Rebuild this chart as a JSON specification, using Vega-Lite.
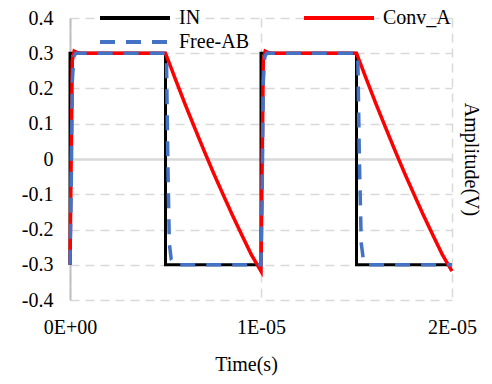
{
  "$schema": "https://vega.github.io/schema/vega-lite/v6.json",
  "width": 382,
  "height": 282,
  "autosize": {"type": "none"},
  "padding": {"left": 70, "top": 18, "right": 40, "bottom": 84},
  "background": "white",
  "config": {
    "view": {"stroke": null},
    "font": "Liberation Serif",
    "axis": {
      "labelFont": "Liberation Serif",
      "titleFont": "Liberation Serif",
      "labelFontSize": 20,
      "titleFontSize": 20,
      "labelColor": "#000000",
      "titleColor": "#000000",
      "titleFontWeight": "normal",
      "ticks": false,
      "gridColor": "#D9D9D9",
      "gridWidth": 1.5,
      "gridDash": [9, 6]
    }
  },
  "data": {
    "values": [
      {"s": "IN", "i": 0, "t": 0, "v": -0.3},
      {"s": "IN", "i": 1, "t": 0, "v": 0.3},
      {"s": "IN", "i": 2, "t": 0.000005, "v": 0.3},
      {"s": "IN", "i": 3, "t": 0.000005, "v": -0.3},
      {"s": "IN", "i": 4, "t": 0.00001, "v": -0.3},
      {"s": "IN", "i": 5, "t": 0.00001, "v": 0.3},
      {"s": "IN", "i": 6, "t": 0.000015, "v": 0.3},
      {"s": "IN", "i": 7, "t": 0.000015, "v": -0.3},
      {"s": "IN", "i": 8, "t": 0.00002, "v": -0.3},

      {"s": "Conv_A", "i": 0, "t": 0, "v": -0.3},
      {"s": "Conv_A", "i": 1, "t": 1.2e-7, "v": 0.28},
      {"s": "Conv_A", "i": 2, "t": 2.2e-7, "v": 0.306},
      {"s": "Conv_A", "i": 3, "t": 4e-7, "v": 0.301},
      {"s": "Conv_A", "i": 4, "t": 6e-7, "v": 0.3},
      {"s": "Conv_A", "i": 5, "t": 0.000005, "v": 0.3},
      {"s": "Conv_A", "i": 6, "t": 0.0000055, "v": 0.229},
      {"s": "Conv_A", "i": 7, "t": 0.000006, "v": 0.159},
      {"s": "Conv_A", "i": 8, "t": 0.0000065, "v": 0.092},
      {"s": "Conv_A", "i": 9, "t": 0.000007, "v": 0.026},
      {"s": "Conv_A", "i": 10, "t": 0.0000075, "v": -0.038},
      {"s": "Conv_A", "i": 11, "t": 0.000008, "v": -0.099},
      {"s": "Conv_A", "i": 12, "t": 0.0000085, "v": -0.159},
      {"s": "Conv_A", "i": 13, "t": 0.000009, "v": -0.216},
      {"s": "Conv_A", "i": 14, "t": 0.0000095, "v": -0.272},
      {"s": "Conv_A", "i": 15, "t": 0.00001, "v": -0.318},
      {"s": "Conv_A", "i": 16, "t": 0.00001012, "v": 0.28},
      {"s": "Conv_A", "i": 17, "t": 0.00001022, "v": 0.306},
      {"s": "Conv_A", "i": 18, "t": 0.0000104, "v": 0.301},
      {"s": "Conv_A", "i": 19, "t": 0.0000106, "v": 0.3},
      {"s": "Conv_A", "i": 20, "t": 0.000015, "v": 0.3},
      {"s": "Conv_A", "i": 21, "t": 0.0000155, "v": 0.229},
      {"s": "Conv_A", "i": 22, "t": 0.000016, "v": 0.159},
      {"s": "Conv_A", "i": 23, "t": 0.0000165, "v": 0.092},
      {"s": "Conv_A", "i": 24, "t": 0.000017, "v": 0.026},
      {"s": "Conv_A", "i": 25, "t": 0.0000175, "v": -0.038},
      {"s": "Conv_A", "i": 26, "t": 0.000018, "v": -0.099},
      {"s": "Conv_A", "i": 27, "t": 0.0000185, "v": -0.159},
      {"s": "Conv_A", "i": 28, "t": 0.000019, "v": -0.216},
      {"s": "Conv_A", "i": 29, "t": 0.0000195, "v": -0.272},
      {"s": "Conv_A", "i": 30, "t": 0.00002, "v": -0.318},

      {"s": "Free-AB", "i": 0, "t": 0, "v": -0.3},
      {"s": "Free-AB", "i": 1, "t": 6e-8, "v": -0.1},
      {"s": "Free-AB", "i": 2, "t": 1.2e-7, "v": 0.22},
      {"s": "Free-AB", "i": 3, "t": 2e-7, "v": 0.29},
      {"s": "Free-AB", "i": 4, "t": 3e-7, "v": 0.3},
      {"s": "Free-AB", "i": 5, "t": 0.000005, "v": 0.3},
      {"s": "Free-AB", "i": 6, "t": 0.00000505, "v": 0.29},
      {"s": "Free-AB", "i": 7, "t": 0.00000512, "v": 0.0},
      {"s": "Free-AB", "i": 8, "t": 0.0000052, "v": -0.24},
      {"s": "Free-AB", "i": 9, "t": 0.0000053, "v": -0.285},
      {"s": "Free-AB", "i": 10, "t": 0.0000055, "v": -0.3},
      {"s": "Free-AB", "i": 11, "t": 0.00001, "v": -0.3},
      {"s": "Free-AB", "i": 12, "t": 0.00001006, "v": -0.1},
      {"s": "Free-AB", "i": 13, "t": 0.00001012, "v": 0.22},
      {"s": "Free-AB", "i": 14, "t": 0.0000102, "v": 0.29},
      {"s": "Free-AB", "i": 15, "t": 0.0000103, "v": 0.3},
      {"s": "Free-AB", "i": 16, "t": 0.000015, "v": 0.3},
      {"s": "Free-AB", "i": 17, "t": 0.00001507, "v": 0.29},
      {"s": "Free-AB", "i": 18, "t": 0.00001515, "v": 0.0},
      {"s": "Free-AB", "i": 19, "t": 0.00001525, "v": -0.24},
      {"s": "Free-AB", "i": 20, "t": 0.00001537, "v": -0.29},
      {"s": "Free-AB", "i": 21, "t": 0.00001555, "v": -0.3},
      {"s": "Free-AB", "i": 22, "t": 0.00002, "v": -0.3}
    ]
  },
  "encoding": {
    "x": {
      "field": "t",
      "type": "quantitative",
      "scale": {"domain": [0, 0.00002], "nice": false, "zero": false},
      "axis": {
        "values": [0, 0.00001, 0.00002],
        "labelExpr": "datum.value === 0 ? '0E+00' : datum.value < 0.000015 ? '1E-05' : '2E-05'",
        "labelFont": "Liberation Serif",
        "labelFontSize": 20,
        "labelFlush": false,
        "labelOverlap": false,
        "encode": {"labels": {"update": {"font": {"value": "Liberation Serif"}}}},
        "domain": false,
        "grid": true,
        "title": "Time(s)",
        "titleFont": "Liberation Serif",
        "labelPadding": 17,
        "titlePadding": 17,
        "titleX": 176
      }
    },
    "order": {"field": "i", "type": "quantitative"},
    "color": {
      "field": "s",
      "type": "nominal",
      "scale": {"domain": ["IN", "Conv_A", "Free-AB"], "range": ["#000000", "#FF0000", "#4472C4"]},
      "legend": {
        "title": null,
        "orient": "none",
        "direction": "horizontal",
        "legendX": 30,
        "legendY": -10,
        "columns": 2,
        "columnPadding": 47,
        "rowPadding": 4,
        "padding": 0,
        "symbolType": "M-7,0H7",
        "symbolSize": 100,
        "symbolStrokeWidth": 4,
        "symbolOffset": 25,
        "labelOffset": 34,
        "labelFont": "Liberation Serif",
        "labelFontSize": 20,
        "labelColor": "#000000",
        "labelLimit": 0
      }
    },
    "strokeDash": {
      "field": "s",
      "type": "nominal",
      "scale": {"domain": ["IN", "Conv_A", "Free-AB"], "range": [[1, 0], [1, 0], [15, 11]]},
      "legend": {
        "title": null,
        "orient": "none",
        "direction": "horizontal",
        "legendX": 30,
        "legendY": -10,
        "columns": 2,
        "columnPadding": 47,
        "rowPadding": 4,
        "padding": 0,
        "symbolType": "M-7,0H7",
        "symbolSize": 100,
        "symbolStrokeWidth": 4,
        "symbolOffset": 25,
        "labelOffset": 34,
        "labelFont": "Liberation Serif",
        "labelFontSize": 20,
        "labelColor": "#000000",
        "labelLimit": 0
      }
    }
  },
  "layer": [
    {
      "transform": [{"filter": "datum.s === 'IN'"}],
      "mark": {"type": "line", "strokeWidth": 3},
      "encoding": {
        "y": {
          "field": "v",
          "type": "quantitative",
          "scale": {"domain": [-0.4, 0.4], "nice": false, "zero": false},
          "axis": {
            "orient": "left",
            "values": [-0.4, -0.3, -0.2, -0.1, 0, 0.1, 0.2, 0.3, 0.4],
            "labelExpr": "'' + datum.value",
            "labelFont": "Liberation Serif",
            "labelFontSize": 20,
            "labelFlush": false,
            "labelOverlap": false,
            "encode": {"labels": {"update": {"font": {"value": "Liberation Serif"}}}},
            "title": null,
            "domain": true,
            "domainColor": "#BFBFBF",
            "domainWidth": 2,
            "grid": true,
            "gridDash": {"condition": {"test": "datum.value === 0", "value": []}, "value": [9, 6]},
            "gridWidth": {"condition": {"test": "datum.value === 0", "value": 2.5}, "value": 1.5},
            "labelPadding": 17
          }
        }
      }
    },
    {
      "transform": [{"filter": "datum.s === 'Conv_A'"}],
      "mark": {"type": "line", "strokeWidth": 3.5},
      "encoding": {
        "y": {
          "field": "v",
          "type": "quantitative",
          "scale": {"domain": [-0.4, 0.4], "nice": false, "zero": false},
          "axis": {
            "orient": "right",
            "labels": false,
            "ticks": false,
            "domain": false,
            "grid": false,
            "title": "Amplitude(V)",
            "titleFont": "Liberation Serif",
            "titlePadding": 8
          }
        }
      }
    },
    {
      "transform": [{"filter": "datum.s === 'Free-AB'"}],
      "mark": {"type": "line", "strokeWidth": 3.5},
      "encoding": {
        "y": {
          "field": "v",
          "type": "quantitative",
          "scale": {"domain": [-0.4, 0.4], "nice": false, "zero": false},
          "axis": null
        }
      }
    }
  ],
  "resolve": {"axis": {"y": "independent"}}
}
